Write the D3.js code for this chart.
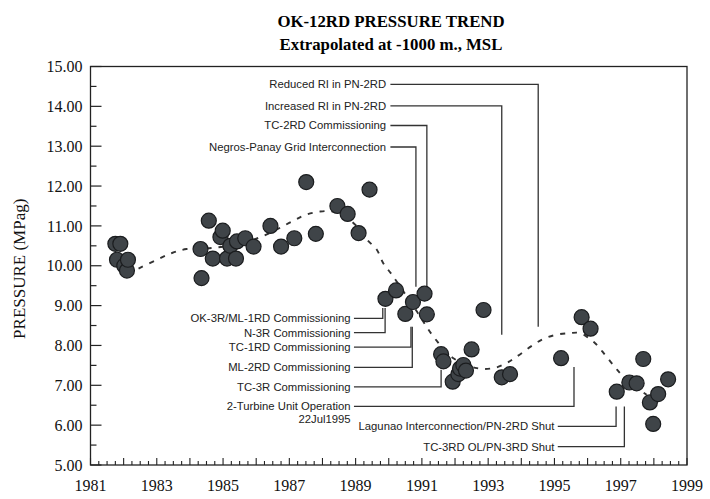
<!DOCTYPE html>
<html><head><meta charset="utf-8">
<script src="https://cdn.jsdelivr.net/npm/d3@7"></script>
<style>body{margin:0;background:#fff}svg{display:block}</style>
</head><body><svg id="chart" width="710" height="499"></svg>
<script>
// ---- data ----
const pointYears = [1981.75,1981.9,1981.8,1982.02,1982.1,1982.13,
  1984.32,1984.35,1984.57,1984.69,1984.92,1984.99,1985.12,1985.22,1985.39,1985.42,1985.67,1985.92,
  1986.43,1986.75,1987.15,1987.51,1987.8,1988.45,1988.76,1989.09,1989.42,
  1989.9,1990.22,1990.5,1990.73,1991.08,1991.15,
  1991.58,1991.65,1991.93,1992.1,1992.15,1992.25,1992.33,1992.5,1992.86,1993.41,1993.66,
  1995.2,1995.82,1996.09,1996.88,1997.26,1997.48,1997.68,1997.88,1997.98,1998.13,1998.43];
const pointPressures = [10.55,10.55,10.15,10.0,9.88,10.15,
  10.42,9.69,11.13,10.18,10.72,10.88,10.18,10.5,10.18,10.61,10.69,10.48,
  11.0,10.48,10.69,12.1,10.8,11.5,11.3,10.82,11.91,
  9.17,9.38,8.79,9.09,9.3,8.78,
  7.78,7.6,7.09,7.28,7.42,7.51,7.37,7.9,8.89,7.2,7.28,
  7.68,8.71,8.42,6.84,7.07,7.05,7.66,6.57,6.03,6.78,7.15];
const trendYears = [1982.45,1983.05,1983.46,1983.9,1984.7,1985.5,1986.22,1987.08,1987.5,1987.93,1988.33,1988.7,1989.04,1989.35,1989.64,1989.83,1990.1,1990.85,1991.35,1991.95,1992.66,1993.16,1993.56,1993.86,1994.61,1995.07,1995.47,1995.77,1996.22,1996.53,1996.83,1997.08,1997.78];
const trendValues = [9.93,10.17,10.32,10.42,10.45,10.55,10.75,11.11,11.28,11.36,11.36,11.22,10.99,10.65,10.4,10.07,9.77,8.85,8.22,7.68,7.43,7.43,7.56,7.72,8.14,8.27,8.31,8.31,8.06,7.76,7.45,7.22,6.76];
const yTickValues = [5,6,7,8,9,10,11,12,13,14,15];
const xTickYears = [1981,1983,1985,1987,1989,1991,1993,1995,1997,1999];
// annotations: label, event year (vertical leader), leader level, leader end value, group
const annoLabels = ["Reduced RI in PN-2RD","Increased RI in PN-2RD","TC-2RD Commissioning","Negros-Panay Grid Interconnection",
  "OK-3R/ML-1RD Commissioning","N-3R Commissioning","TC-1RD Commissioning","ML-2RD Commissioning","TC-3R Commissioning","2-Turbine Unit Operation",
  "Lagunao Interconnection/PN-2RD Shut","TC-3RD OL/PN-3RD Shut"];
const annoYears = [1994.51,1993.41,1991.15,1990.82, 1989.82,1989.89,1990.67,1990.71,1991.58,1995.59, 1996.86,1997.11];
const annoLevels = [14.55,14.01,13.52,12.98, 8.68,8.32,7.96,7.45,6.96,6.47, 5.97,5.46];
const annoEnds = [8.47,8.27,9.45,9.47, 8.94,8.94,8.47,8.47,7.39,7.46, 6.47,6.47];
const annoGroup = ["top","top","top","top","left","left","left","left","left","left","bottom","bottom"];
const annoSub = ["","","","","","","","","","22Jul1995","",""];
const groupTextYear = {top:1989.92, left:1988.85, bottom:1995.0};
const groupLineYear = {top:1990.05, left:1988.95, bottom:1995.1};

// ---- layout ----
const svg = d3.select("#chart");
const x = d3.scaleLinear().domain([1981,1999]).range([90.5,687]);
const y = d3.scaleLinear().domain([5,15]).range([465,66.5]);
const serif = "'Liberation Serif','Times New Roman',serif";
const sans = "'Liberation Sans',Arial,sans-serif";

// title
svg.append("text").attr("x",391).attr("y",27).attr("text-anchor","middle")
  .attr("font-family",serif).attr("font-weight","bold").attr("font-size",16.8).text("OK-12RD PRESSURE TREND");
svg.append("text").attr("x",391).attr("y",50).attr("text-anchor","middle")
  .attr("font-family",serif).attr("font-weight","bold").attr("font-size",16.8).text("Extrapolated at -1000 m., MSL");

// frame
svg.append("rect").attr("x",x(1981)).attr("y",y(15)).attr("width",x(1999)-x(1981)).attr("height",y(5)-y(15))
  .attr("fill","none").attr("stroke","#222").attr("stroke-width",1.3);

// y axis (ticks inward)
const gy = svg.append("g").attr("transform",`translate(${x(1981)},0)`);
gy.selectAll("line.t").data(d3.range(5,15.01,0.5)).join("line")
  .attr("x1",0).attr("x2",d=>Number.isInteger(d)?11:6)
  .attr("y1",d=>y(d)).attr("y2",d=>y(d)).attr("stroke","#222").attr("stroke-width",1.2);
gy.selectAll("text").data(yTickValues).join("text")
  .attr("x",-8).attr("y",d=>y(d)).attr("dy","0.35em").attr("text-anchor","end")
  .attr("font-family",serif).attr("font-size",16).attr("fill","#111").text(d=>d3.format(".2f")(d));
svg.append("text").attr("transform",`translate(25,${(y(5)+y(15))/2+3}) rotate(-90)`).attr("text-anchor","middle")
  .attr("font-family",serif).attr("font-size",17).attr("fill","#111").text("PRESSURE (MPag)");

// x axis (ticks inward)
const gx = svg.append("g").attr("transform",`translate(0,${y(5)})`);
gx.selectAll("line.t").data(d3.range(1981,1999.01,0.25)).join("line")
  .attr("x1",d=>x(d)).attr("x2",d=>x(d)).attr("y1",0)
  .attr("y2",d=>Math.abs(d-Math.round(d))<1e-6?-7:-4).attr("stroke","#222").attr("stroke-width",1.1);
gx.selectAll("text").data(xTickYears).join("text")
  .attr("x",d=>x(d)).attr("y",26).attr("text-anchor","middle")
  .attr("font-family",serif).attr("font-size",16).attr("fill","#111").text(d=>d);

// annotations
const ag = svg.append("g");
annoLabels.forEach((lab,i)=>{
  const g = annoGroup[i];
  const ly = y(annoLevels[i]);
  ag.append("path").attr("d",`M${x(groupLineYear[g])},${ly}H${x(annoYears[i])}V${y(annoEnds[i])}`)
    .attr("fill","none").attr("stroke","#333").attr("stroke-width",1.3);
  ag.append("text").attr("x",x(groupTextYear[g])).attr("y",ly).attr("dy","0.35em").attr("text-anchor","end")
    .attr("font-family",sans).attr("font-size",11.3).attr("fill","#222").text(lab);
  if(annoSub[i]) ag.append("text").attr("x",x(groupTextYear[g])).attr("y",ly+12.5).attr("dy","0.35em").attr("text-anchor","end")
    .attr("font-family",sans).attr("font-size",11.3).attr("fill","#222").text(annoSub[i]);
});

// trend line
svg.append("path").datum(trendYears.map((d,i)=>[d,trendValues[i]]))
  .attr("d",d3.line().x(d=>x(d[0])).y(d=>y(d[1])).curve(d3.curveCatmullRom.alpha(0.5)))
  .attr("fill","none").attr("stroke","#333").attr("stroke-width",1.9).attr("stroke-dasharray","5,7");

// points
svg.append("g").selectAll("circle").data(pointYears.map((d,i)=>[d,pointPressures[i]])).join("circle")
  .attr("cx",d=>x(d[0])).attr("cy",d=>y(d[1])).attr("r",7.5)
  .attr("fill","#3f4448").attr("stroke","#1b1d1f").attr("stroke-width",1.2);
</script></body></html>
